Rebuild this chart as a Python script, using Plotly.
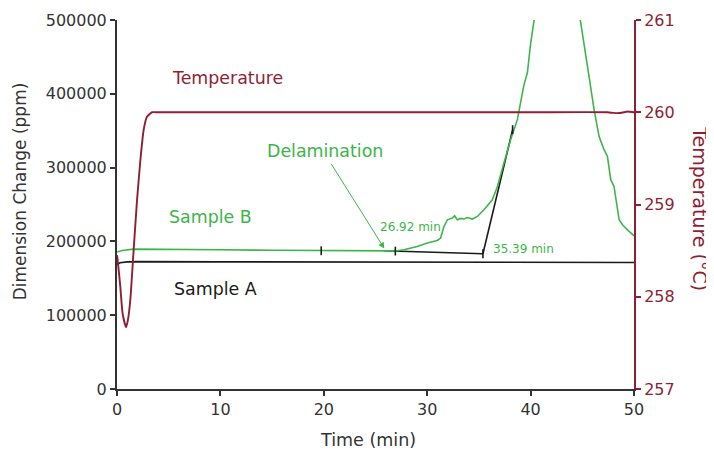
import plotly.graph_objects as go

# ---------------- data ----------------
temp_time = [0, 0.1, 0.32, 0.54, 0.87, 1.06, 1.29, 1.61, 1.94, 2.26, 2.58, 2.9, 3.39, 4.0,
             10, 20, 30, 40, 47.43, 48.0, 48.4, 49.04, 49.37, 49.97, 50]
temp_c = [258.45, 258.36, 258.11, 257.82, 257.67, 257.75, 257.97, 258.51, 259.05, 259.48,
          259.81, 259.95, 260.0, 260.0, 260.0, 260.0, 260.0, 260.0, 260.0, 259.993, 259.99,
          260.0, 260.008, 260.0, 260.0]

a_time = [0, 0.3, 1.0, 2.0, 10, 30, 50]
a_ppm = [168500, 171000, 172300, 172600, 172300, 171800, 171400]

b_time = [0, 0.5, 1.6, 5, 10, 15, 20, 25, 26.92, 27.74, 29.04, 30.01, 30.98, 31.3, 31.62, 31.95,
          32.43, 32.65, 32.91, 33.23, 33.55, 33.88, 34.37, 34.85, 35.49, 36.3, 36.79, 37.42,
          38.07, 38.72, 38.88, 39.21, 39.36, 39.69, 40.01, 40.43, 41.2, 42.5, 43.7, 44.75,
          45.17, 45.65, 46.14, 46.62, 47.1, 47.43, 47.75, 48.07, 48.56, 48.89, 49.37, 49.85, 50]
b_ppm = [185500, 187700, 189500, 189500, 188600, 188000, 187300, 187000, 187100, 188600, 193100,
         197700, 201200, 204500, 220200, 229300, 231600, 234700, 229300, 231100, 230300, 232400,
         230300, 233800, 242900, 256400, 274500, 306200, 337900, 365000, 378600, 401200, 412500,
         428400, 469100, 505200, 580000, 640000, 590000, 505200, 469100, 423700, 378600, 342300,
         324300, 315200, 283600, 274500, 229300, 222500, 215700, 209000, 207500]

tan1_time = [25.8, 35.39]
tan1_ppm = [187300, 183200]
tan2_time = [35.39, 38.26]
tan2_ppm = [183200, 351400]
tick_time = [19.75, 26.92, 35.39, 38.26]
tick_ppm = [187300, 186900, 183200, 351400]
tick_half = 6000

x_ticks = [0, 10, 20, 30, 40, 50]
y_ticks = [0, 100000, 200000, 300000, 400000, 500000]
y_tick_labels = ["0", "100000", "200000", "300000", "400000", "500000"]
y2_ticks = [257, 258, 259, 260, 261]

GREEN = "#3DB54A"
RED = "#8E1F34"
BLACK = "#1a1a1a"
AXIS = "#333333"
FONT = "DejaVu Sans"

fig = go.Figure()

line_kw = dict(mode="lines", showlegend=False, hoverinfo="skip")
fig.add_trace(go.Scatter(x=a_time, y=a_ppm, line=dict(color=BLACK, width=1.6), **line_kw))
fig.add_trace(go.Scatter(x=tan1_time, y=tan1_ppm, line=dict(color=BLACK, width=1.6), **line_kw))
fig.add_trace(go.Scatter(x=tan2_time, y=tan2_ppm, line=dict(color=BLACK, width=1.6), **line_kw))
fig.add_trace(go.Scatter(x=b_time, y=b_ppm, line=dict(color=GREEN, width=1.6), **line_kw))
tx, ty = [], []
for t, p in zip(tick_time, tick_ppm):
    tx += [t, t, None]
    ty += [p - tick_half, p + tick_half, None]
fig.add_trace(go.Scatter(x=tx, y=ty, line=dict(color=BLACK, width=1.6), **line_kw))
fig.add_trace(go.Scatter(x=temp_time, y=temp_c, yaxis="y2",
                         line=dict(color=RED, width=1.9, shape="spline", smoothing=0.5), **line_kw))

ann = [
    (10.7, 421000, "Temperature", RED, 17.4),
    (20.1, 323000, "Delamination", GREEN, 17.4),
    (9.0, 233000, "Sample B", GREEN, 17.4),
    (9.5, 136000, "Sample A", BLACK, 17.4),
    (28.4, 219000, "26.92 min", GREEN, 12),
    (39.3, 190000, "35.39 min", GREEN, 12),
]
annotations = [dict(x=x, y=y, xref="x", yref="y", text=t, showarrow=False,
                    font=dict(family=FONT, color=c, size=s)) for x, y, t, c, s in ann]
annotations.append(dict(x=25.85, y=190500, xref="x", yref="y", ax=-54, ay=-86, text="",
                        showarrow=True, arrowhead=2, arrowsize=1.2, arrowwidth=1, arrowcolor=GREEN))
# axis titles
annotations += [
    dict(x=-0.1886, y=0.537, xref="paper", yref="paper", text="Dimension Change (ppm)",
         textangle=-90, showarrow=False, xanchor="center", yanchor="middle",
         font=dict(family=FONT, size=17, color=AXIS)),
    dict(x=1.1277, y=0.49, xref="paper", yref="paper", text="Temperature (°C)",
         textangle=90, showarrow=False, xanchor="center", yanchor="middle",
         font=dict(family=FONT, size=19, color=RED)),
    dict(x=0.4855, y=-0.138, xref="paper", yref="paper", text="Time (min)",
         showarrow=False, xanchor="center", yanchor="middle",
         font=dict(family=FONT, size=17.5, color=AXIS)),
]

fig.update_layout(
    width=706, height=444,
    margin=dict(l=109, r=80, t=12, b=63),
    paper_bgcolor="white", plot_bgcolor="white",
    font=dict(family=FONT, size=16, color=AXIS),
    annotations=annotations,
    xaxis=dict(range=[0, 50], tickvals=x_ticks, showgrid=False, zeroline=False, automargin=False,
               showline=True, linecolor=AXIS, linewidth=2, ticks="outside", ticklen=5,
               tickwidth=1.5, tickcolor=AXIS),
    yaxis=dict(range=[0, 500000], tickvals=y_ticks, ticktext=y_tick_labels, showgrid=False,
               zeroline=False, automargin=False,
               showline=True, linecolor=AXIS, linewidth=2, ticks="outside", ticklen=5,
               tickwidth=1.5, tickcolor=AXIS),
    yaxis2=dict(range=[257, 261], tickvals=y2_ticks, overlaying="y", side="right", automargin=False,
                showgrid=False, zeroline=False, showline=True, linecolor=RED, linewidth=2,
                ticks="outside", ticklen=5, tickwidth=1.5, tickcolor=RED,
                tickfont=dict(color=RED, size=16)),
)

fig.write_html("out.html")
